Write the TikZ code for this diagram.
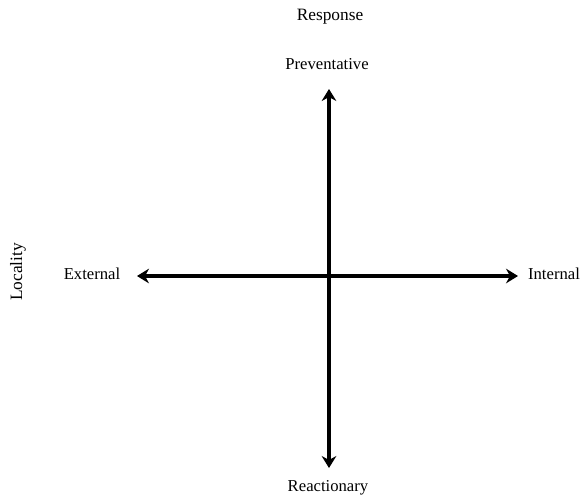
\documentclass[tikz,border=0pt]{standalone}
\usepackage{fontspec}
\setmainfont{Liberation Serif}
\usepackage{tikz}
\usetikzlibrary{arrows.meta,positioning}

\tikzset{
  axislabel/.style={font=\fontsize{12.5}{15}\selectfont, inner sep=1pt},
  axistitle/.style={font=\fontsize{13}{16}\selectfont, inner sep=1pt},
  axisarrow/.style={line width=2.3pt, {Stealth[length=9pt,width=11pt,inset=3pt]}-{Stealth[length=9pt,width=11pt,inset=3pt]}}
}

\begin{document}
\begin{tikzpicture}[x=0.75pt,y=-0.75pt]
    \useasboundingbox (0,0) rectangle (584,497);

    % Titles
    \node[axistitle] (response) at (330,17) {Response};
    \node[axistitle,rotate=90] (locality) at (18,272) {Locality};

    % Ends of the axes
    \node[axislabel] (prev) at (327,64) {Preventative};
    \node[axislabel] (react) at (328,488) {Reactionary};
    \node[axislabel] (ext) at (92,274) {External};
    \node[axislabel] (int) at (554,274) {Internal};

    \coordinate (vtop) at (329,89);
    \coordinate (vbot) at (329,468);
    \coordinate (hleft) at (137,276);
    \coordinate (hright) at (518,276);

    % Axes
    \draw[axisarrow] (vbot) -- (vtop);
    \draw[axisarrow] (hleft) -- (hright);
\end{tikzpicture}
\end{document}
